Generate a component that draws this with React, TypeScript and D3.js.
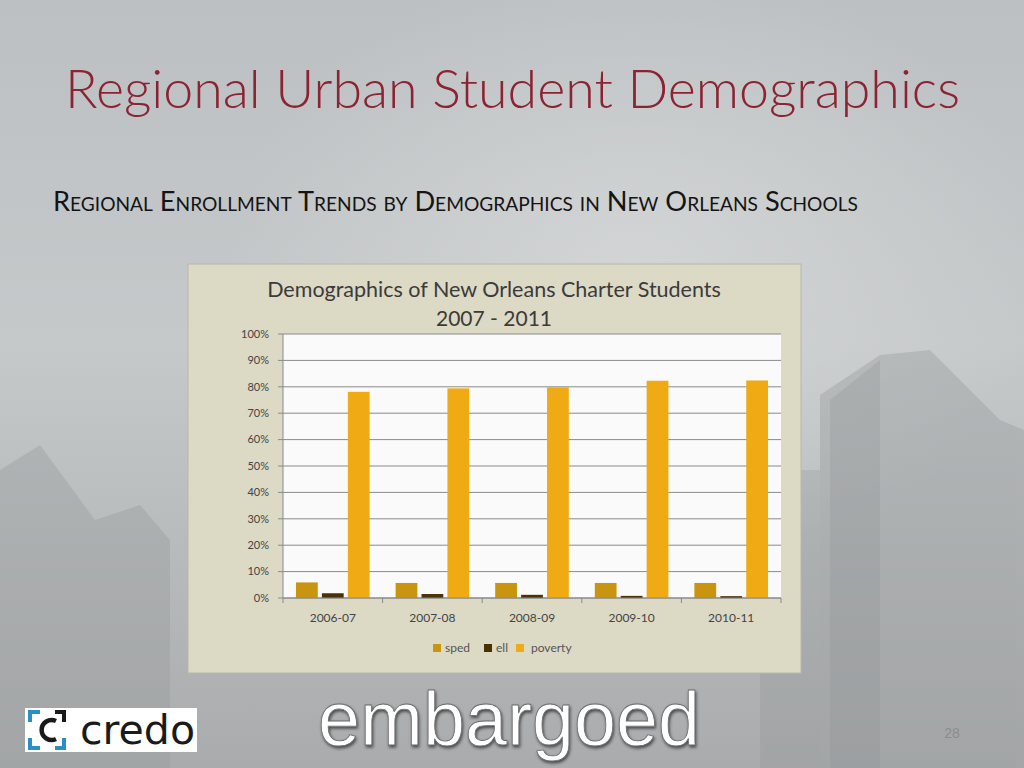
import React from "react";
import * as d3 from "d3";

// chart data
const years = ["2006-07", "2007-08", "2008-09", "2009-10", "2010-11"];
const series = ["sped", "ell", "poverty"];
const sped = [5.9, 5.7, 5.7, 5.7, 5.7];
const ell = [1.8, 1.5, 1.2, 0.8, 0.7];
const poverty = [78.1, 79.4, 79.8, 82.3, 82.4];
const yTicks = [0, 10, 20, 30, 40, 50, 60, 70, 80, 90, 100];

const colors: Record<string, string> = {
  sped: "#c9940f",
  ell: "#4a3104",
  poverty: "#f0aa14",
};

const W = 1024;
const H = 768;

// plot area inside the chart box
const plot = { left: 283, right: 781, top: 334, bottom: 598 };

export default function App() {
  const values: Record<string, number[]> = { sped, ell, poverty };

  const x = d3
    .scaleBand<string>()
    .domain(years)
    .range([plot.left, plot.right])
    .paddingInner(0)
    .paddingOuter(0);

  const inner = d3
    .scaleBand<string>()
    .domain(series)
    .range([13, x.bandwidth() - 13])
    .paddingInner(0.16);

  const y = d3.scaleLinear().domain([0, 100]).range([plot.bottom, plot.top]);

  const groupEdges = years.map((yr) => x(yr)!).concat([plot.right]);

  const legend = [
    { key: "sped", sq: 433, tx: 445 },
    { key: "ell", sq: 484, tx: 496 },
    { key: "poverty", sq: 516, tx: 531 },
  ];

  return (
    <svg
      width={W}
      height={H}
      style={{ position: "absolute", left: 0, top: 0 }}
      fontFamily="Lato, 'Open Sans', sans-serif"
    >
      <defs>
        <linearGradient id="bg" x1="0" y1="0" x2="0" y2="1">
          <stop offset="0" stopColor="#bcc0c3" />
          <stop offset="0.45" stopColor="#c6c9ca" />
          <stop offset="1" stopColor="#a9abac" />
        </linearGradient>
        <radialGradient id="haze" cx="0.62" cy="0.35" r="0.4">
          <stop offset="0" stopColor="#d6d8d8" stopOpacity="0.8" />
          <stop offset="1" stopColor="#d6d8d8" stopOpacity="0" />
        </radialGradient>
        <filter id="shadow" x="-10%" y="-10%" width="120%" height="130%">
          <feDropShadow dx="1" dy="2" stdDeviation="1.5" floodColor="#333" floodOpacity="0.8" />
        </filter>
      </defs>

      {/* slide background */}
      <rect width={W} height={H} fill="url(#bg)" />
      <rect width={W} height={H} fill="url(#haze)" />
      {/* faint building silhouettes */}
      <g fill="#9a9d9f" opacity="0.4">
        <polygon points="0,470 40,445 95,520 95,768 0,768" />
        <polygon points="95,520 140,505 170,540 170,768 95,768" />
        <polygon points="820,395 880,355 930,350 1000,420 1000,768 820,768" />
        <polygon points="1000,420 1024,430 1024,768 1000,768" />
      </g>
      <g fill="#8e9193" opacity="0.25">
        <polygon points="830,400 880,360 880,768 830,768" />
        <rect x="760" y="470" width="60" height="298" />
      </g>

      {/* slide titles */}
      <text
        x={65}
        y={108}
        fontSize={53}
        fontWeight={300}
        fill="#8c2331"
        textLength={895}
        lengthAdjust="spacingAndGlyphs"
      >
        Regional Urban Student Demographics
      </text>
      <text
        x={53}
        y={211}
        fontSize={27}
        fill="#141414"
        style={{ fontVariant: "small-caps" }}
        textLength={805}
        lengthAdjust="spacingAndGlyphs"
      >
        Regional Enrollment Trends by Demographics in New Orleans Schools
      </text>

      {/* chart box */}
      <rect x={188} y={264} width={613} height={409} fill="#dcd9c5" stroke="#b9b7a8" />
      <text x={494} y={297} fontSize={21.5} fill="#3b3b3b" textAnchor="middle">
        Demographics of New Orleans Charter Students
      </text>
      <text x={494} y={326} fontSize={21} fill="#3b3b3b" textAnchor="middle">
        2007 - 2011
      </text>

      <rect
        x={plot.left}
        y={plot.top}
        width={plot.right - plot.left}
        height={plot.bottom - plot.top}
        fill="#fafafa"
      />

      {/* gridlines + y axis */}
      {yTicks.map((t) => (
        <g key={t}>
          <line x1={plot.left} x2={plot.right} y1={y(t)} y2={y(t)} stroke="#8a8a8a" strokeWidth={1} />
          <line x1={plot.left - 5} x2={plot.left} y1={y(t)} y2={y(t)} stroke="#8a8a8a" />
          <text x={269} y={y(t)} dy="0.35em" fontSize={11} fill="#444" textAnchor="end">
            {t}%
          </text>
        </g>
      ))}
      <line x1={plot.left} x2={plot.left} y1={plot.top} y2={plot.bottom} stroke="#8a8a8a" />

      {/* bars */}
      {years.map((yr, i) => (
        <g key={yr} transform={`translate(${x(yr)},0)`}>
          {series.map((s) => (
            <rect
              key={s}
              x={inner(s)}
              y={y(values[s][i])}
              width={inner.bandwidth()}
              height={y(0) - y(values[s][i])}
              fill={colors[s]}
            />
          ))}
        </g>
      ))}

      {/* x axis */}
      <line x1={plot.left} x2={plot.right} y1={plot.bottom} y2={plot.bottom} stroke="#8a8a8a" />
      {groupEdges.map((e, i) => (
        <line key={i} x1={e} x2={e} y1={plot.bottom} y2={plot.bottom + 5} stroke="#8a8a8a" />
      ))}
      {years.map((yr) => (
        <text
          key={yr}
          x={x(yr)! + x.bandwidth() / 2}
          y={622}
          fontSize={12}
          fill="#444"
          textAnchor="middle"
        >
          {yr}
        </text>
      ))}

      {/* legend */}
      {legend.map((l) => (
        <g key={l.key}>
          <rect x={l.sq} y={644} width={8} height={8} fill={colors[l.key]} />
          <text x={l.tx} y={652} fontSize={12} fill="#555">
            {l.key}
          </text>
        </g>
      ))}

      {/* credo logo */}
      <rect x={25} y={708} width={172} height={44} fill="#ffffff" />
      <g fill="none" strokeWidth={4}>
        <path d="M30,722 L30,712 L40,712" stroke="#2a8fc8" />
        <path d="M30,738 L30,748 L40,748" stroke="#2a8fc8" />
        <path d="M55,712 L64,712 L64,722" stroke="#1a1a1a" />
        <path d="M55,748 L64,748 L64,738" stroke="#2a8fc8" />
        <path d="M56,721 A10,10 0 1 0 56,739" stroke="#1a1a1a" strokeWidth={4.5} />
      </g>
      <text
        x={80}
        y={744}
        fontSize={40}
        fill="#1a1a1a"
        fontFamily="'DejaVu Sans', sans-serif"
        textLength={115}
        lengthAdjust="spacingAndGlyphs"
      >
        credo
      </text>

      {/* embargoed stamp */}
      <text
        x={318}
        y={745}
        fontSize={76}
        fill="#ffffff"
        fontFamily="'Liberation Sans', Arial, sans-serif"
        textLength={382}
        lengthAdjust="spacingAndGlyphs"
        filter="url(#shadow)"
        stroke="#6a6a6a"
        strokeWidth={0.8}
      >
        embargoed
      </text>

      {/* page number */}
      <text
        x={952}
        y={738}
        fontSize={14}
        fill="#8c8c8c"
        textAnchor="middle"
        fontFamily="'Liberation Sans', Arial, sans-serif"
      >
        28
      </text>
    </svg>
  );
}
